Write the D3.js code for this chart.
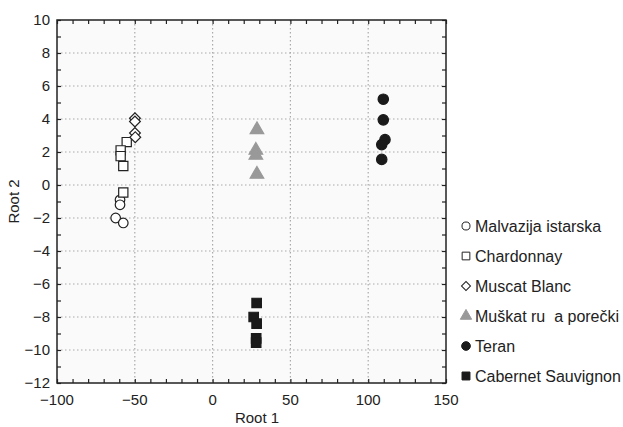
<!DOCTYPE html>
<html>
<head>
<meta charset="utf-8">
<script src="https://cdn.jsdelivr.net/npm/d3@7"></script>
<style>
  body { margin: 0; background: #fff; }
  text { font-family: "Liberation Sans", Arial, sans-serif; fill: #222; }
</style>
</head>
<body>
<svg width="623" height="427"></svg>
<script>
// groups, in legend order
const groupNames = ["Malvazija istarska", "Chardonnay", "Muscat Blanc", "Muškat ru  a porečki", "Teran", "Cabernet Sauvignon"];

// [root1, root2] per sample
const malvazija = [[-59.5, -0.9], [-59.5, -1.2], [-62.3, -2.0], [-57.4, -2.3]];
const chardonnay = [[-55.2, 2.6], [-59.1, 2.1], [-59.1, 1.75], [-57.4, 1.15], [-57.4, -0.45]];
const muscatBlanc = [[-49.9, 4.05], [-49.9, 3.85], [-49.9, 3.15], [-49.7, 2.9]];
const muskat = [[28.5, 3.35], [27.8, 2.1], [27.8, 1.8], [28.5, 0.65]];
const teran = [[109.7, 5.2], [109.7, 3.95], [110.8, 2.75], [108.7, 2.45], [108.7, 1.55]];
const cabernet = [[28.3, -7.15], [26.4, -8.0], [28.3, -8.4], [28.0, -9.3], [28.0, -9.55]];

const xTicks = [-100, -50, 0, 50, 100, 150];
const yTicks = [-12, -10, -8, -6, -4, -2, 0, 2, 4, 6, 8, 10];

const svg = d3.select("svg");
const m = {left: 57, right: 446, top: 20, bottom: 383};

const x = d3.scaleLinear().domain([-100, 150]).range([m.left, m.right]);
const y = d3.scaleLinear().domain([-12, 10]).range([m.bottom, m.top]);

// plot background
svg.append("rect").attr("x", m.left).attr("y", m.top)
  .attr("width", m.right - m.left).attr("height", m.bottom - m.top)
  .attr("fill", "#fafafa");

// dotted grid
const grid = svg.append("g").attr("stroke", "#aaa").attr("stroke-width", 1.2).attr("stroke-dasharray", "1.5,2.5");
grid.selectAll(".gx").data(xTicks.slice(1, -1)).enter().append("line")
  .attr("x1", d => x(d)).attr("x2", d => x(d)).attr("y1", m.top).attr("y2", m.bottom);
grid.selectAll(".gy").data(yTicks.slice(1, -1)).enter().append("line")
  .attr("y1", d => y(d)).attr("y2", d => y(d)).attr("x1", m.left).attr("x2", m.right);

const fmt = d => d < 0 ? "\u2212" + Math.abs(d) : d;

// axes, ticks point inward
const minorX = d3.range(-100, 151, 10);
const minorY = d3.range(-12, 11, 1);
svg.append("g").attr("transform", `translate(0,${m.bottom})`)
  .call(d3.axisBottom(x).tickValues(minorX).tickSize(-4).tickFormat(""));
svg.append("g").attr("transform", `translate(0,${m.top})`)
  .call(d3.axisTop(x).tickValues(minorX).tickSize(-4).tickFormat(""));
svg.append("g").attr("transform", `translate(${m.left},0)`)
  .call(d3.axisLeft(y).tickValues(minorY).tickSize(-4).tickFormat(""));
svg.append("g").attr("transform", `translate(${m.right},0)`)
  .call(d3.axisRight(y).tickValues(minorY).tickSize(-4).tickFormat(""));
svg.selectAll(".domain").remove();
svg.selectAll(".tick line").attr("stroke", "#222").attr("stroke-width", 1.2);

svg.append("rect").attr("x", m.left).attr("y", m.top)
  .attr("width", m.right - m.left).attr("height", m.bottom - m.top)
  .attr("fill", "none").attr("stroke", "#222").attr("stroke-width", 1.5);

// tick labels
svg.selectAll(".xl").data(xTicks).enter().append("text")
  .attr("x", d => x(d)).attr("y", m.bottom + 22).attr("text-anchor", "middle")
  .attr("font-size", 15).text(fmt);
svg.selectAll(".yl").data(yTicks).enter().append("text")
  .attr("x", m.left - 7).attr("y", d => y(d) + 5).attr("text-anchor", "end")
  .attr("font-size", 15).text(fmt);

svg.append("text").attr("x", 257).attr("y", 423)
  .attr("text-anchor", "middle").attr("font-size", 15).text("Root 1");
svg.append("text").attr("transform", `translate(19,${(m.top + m.bottom) / 2}) rotate(-90)`)
  .attr("text-anchor", "middle").attr("font-size", 15).text("Root 2");

// marker styles per group
const styles = [
  {sym: d3.symbolCircle, size: 72, fill: "#fff", stroke: "#222"},
  {sym: d3.symbolSquare, size: 85, fill: "#fff", stroke: "#222"},
  {sym: d3.symbolSquare, size: 58, fill: "#fff", stroke: "#222", rot: 45},
  {sym: d3.symbolTriangle, size: 80, fill: "#999", stroke: "#999"},
  {sym: d3.symbolCircle, size: 85, fill: "#1a1a1a", stroke: "#1a1a1a"},
  {sym: d3.symbolSquare, size: 90, fill: "#1a1a1a", stroke: "#1a1a1a"}
];
const series = [malvazija, chardonnay, muscatBlanc, muskat, teran, cabernet];

series.forEach((pts, i) => {
  const s = styles[i];
  svg.append("g").selectAll("path").data(pts).enter().append("path")
    .attr("d", d3.symbol().type(s.sym).size(s.size))
    .attr("transform", d => `translate(${x(d[0])},${y(d[1])}) rotate(${s.rot || 0})`)
    .attr("fill", s.fill).attr("stroke", s.stroke).attr("stroke-width", 1.2);
});

// legend
const legend = svg.append("g");
groupNames.forEach((name, i) => {
  const s = styles[i];
  const ly = 226 + i * 30;
  legend.append("path")
    .attr("d", d3.symbol().type(s.sym).size(s.size * 0.7))
    .attr("transform", `translate(466,${ly}) rotate(${s.rot || 0})`)
    .attr("fill", s.fill).attr("stroke", s.stroke).attr("stroke-width", 1);
  legend.append("text").attr("x", 475).attr("y", ly + 5.5)
    .attr("font-size", 16).style("white-space", "pre").text(name);
});
</script>
</body>
</html>
